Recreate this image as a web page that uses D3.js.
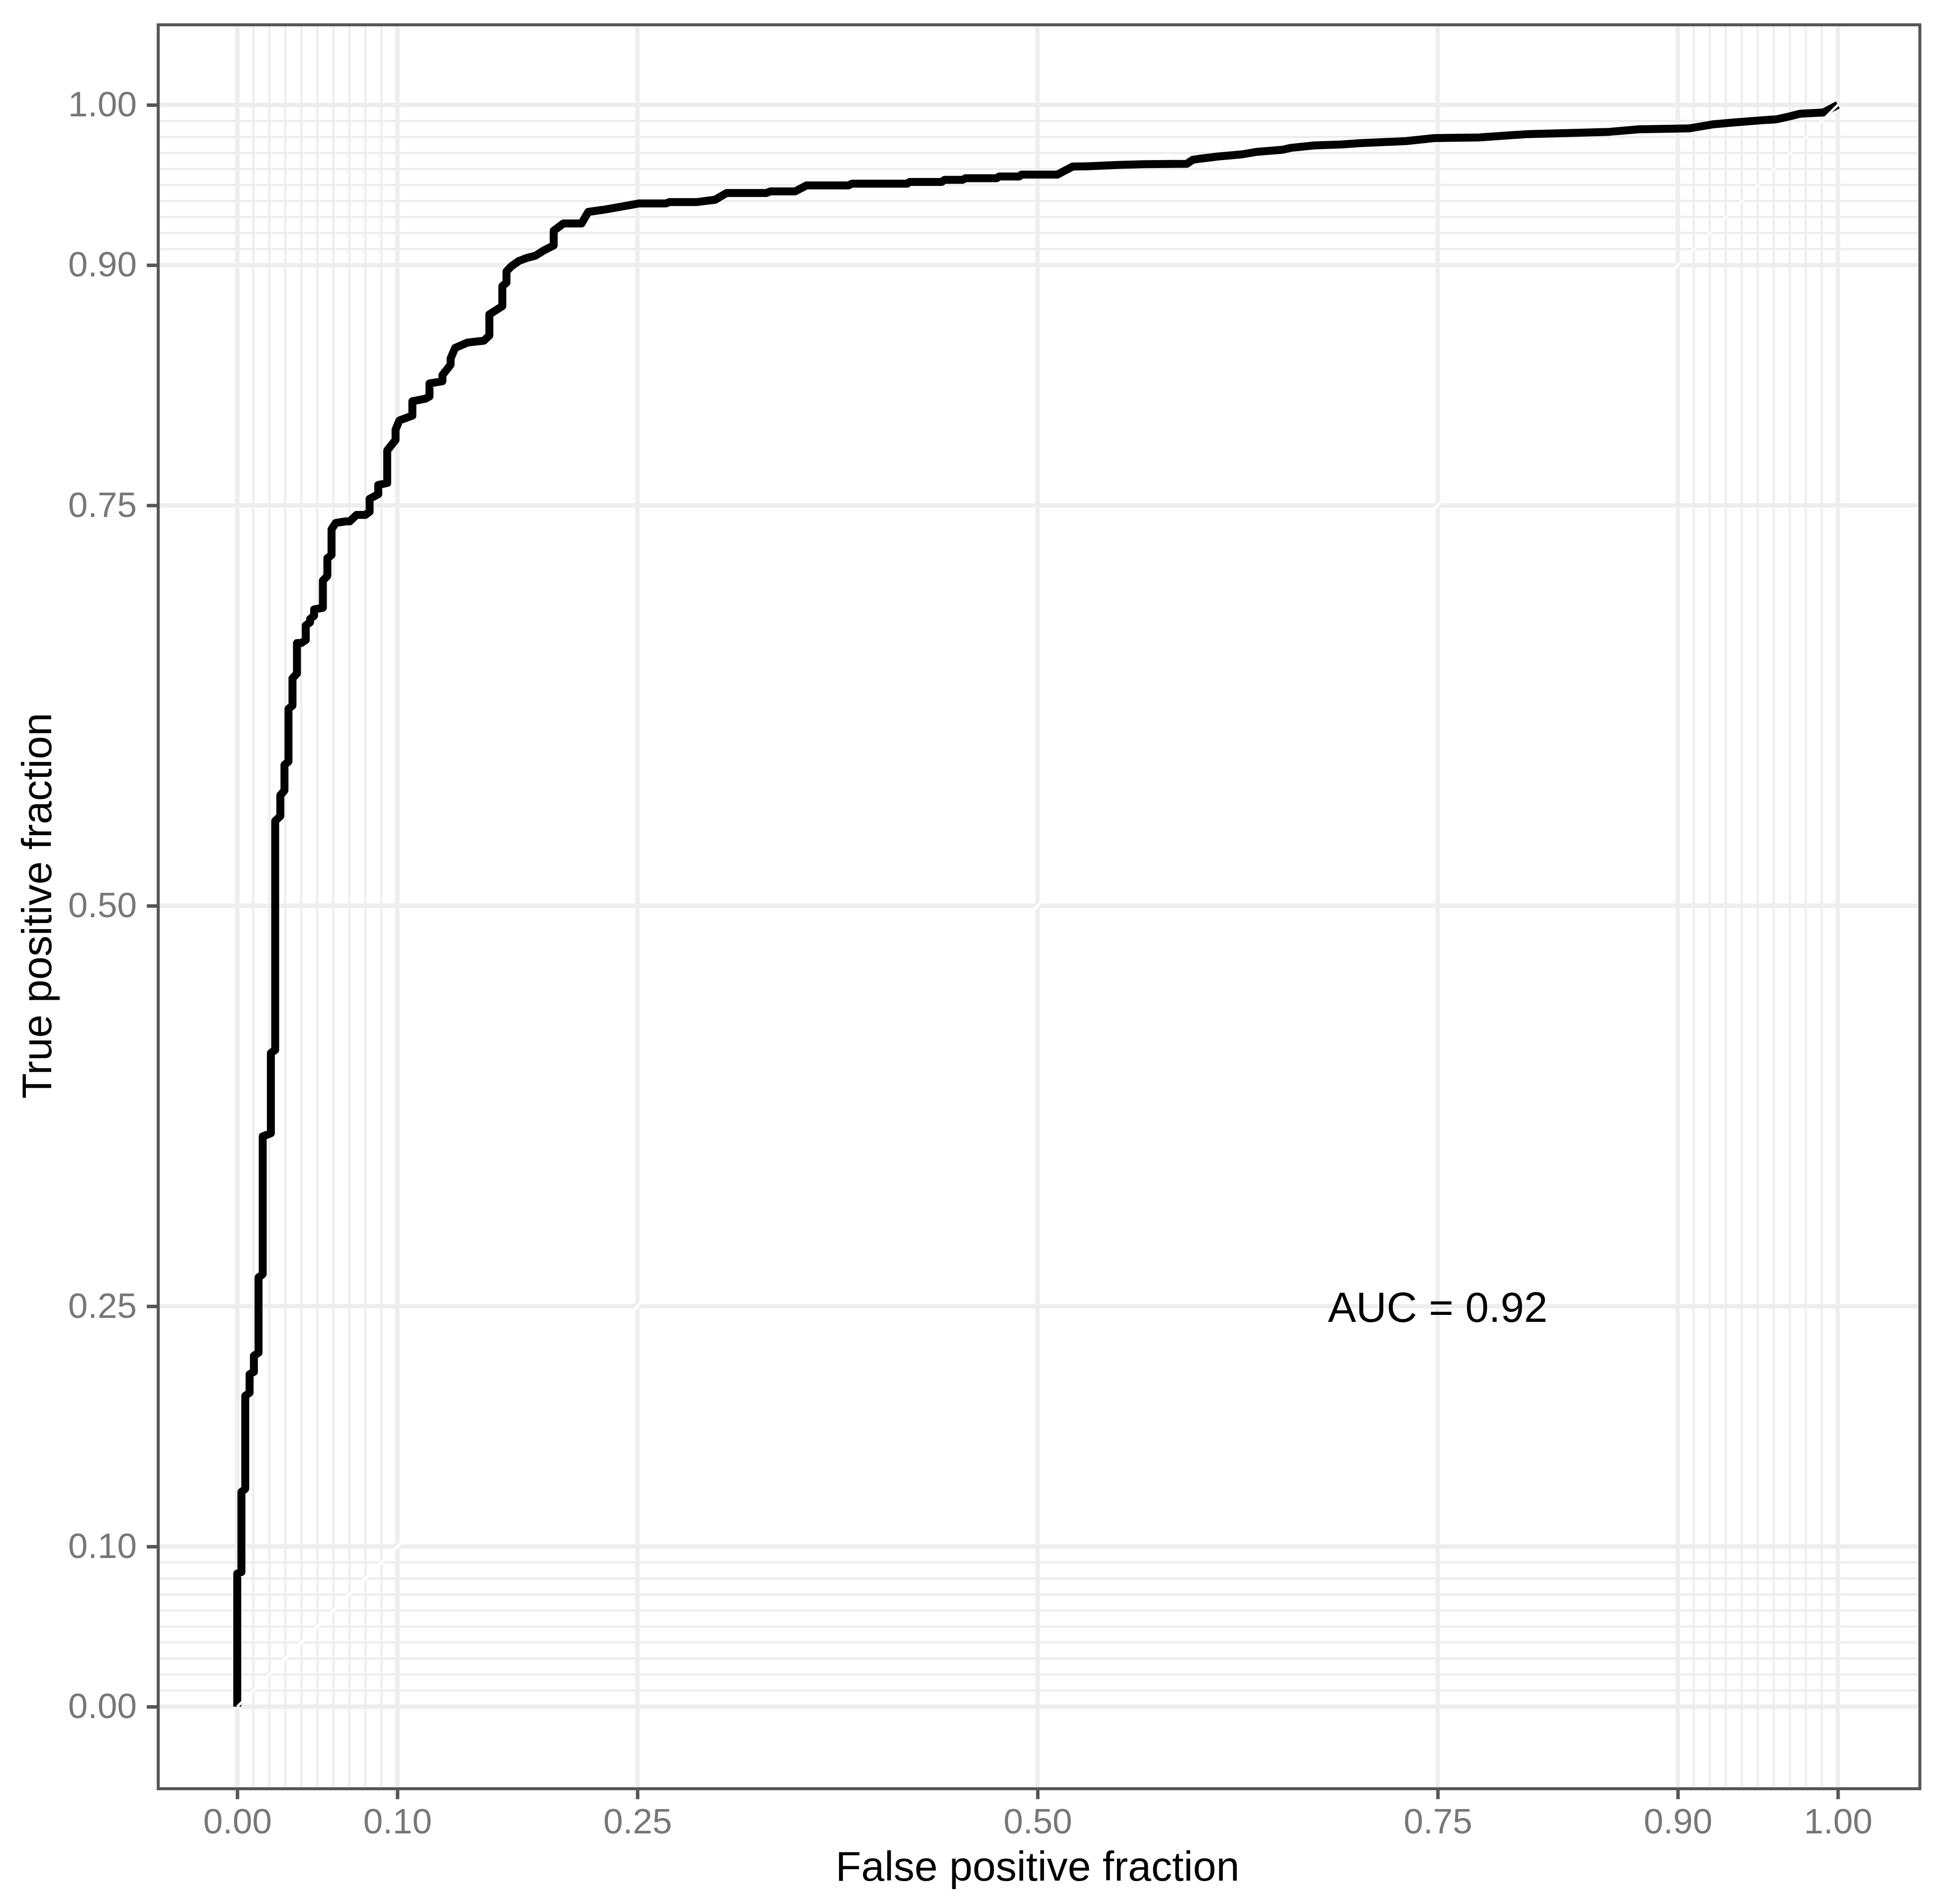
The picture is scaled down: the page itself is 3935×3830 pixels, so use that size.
<!DOCTYPE html>
<html>
<head>
<meta charset="utf-8">
<script src="https://cdn.jsdelivr.net/npm/d3@7"></script>
<style>
  html, body { margin: 0; padding: 0; background: #fff; }
  text { font-family: "Liberation Sans", Arial, sans-serif; }
</style>
</head>
<body>
<div id="chart"></div>
<script>
// ROC curve points
const fpf = [
  0, 0, 0.0026, 0.0026, 0.005, 0.005, 0.0077, 0.0077, 0.0104, 0.0104,
  0.0133, 0.0133, 0.0159, 0.0159, 0.021, 0.021, 0.0237, 0.0237, 0.0269, 0.0269,
  0.0295, 0.0295, 0.032, 0.032, 0.0345, 0.0345, 0.0373, 0.0373, 0.040, 0.0428,
  0.0428, 0.0455, 0.0455, 0.048, 0.048, 0.0535, 0.0535, 0.0563, 0.0563, 0.0589,
  0.0589, 0.0615, 0.068, 0.0703, 0.0745, 0.080, 0.0827, 0.0827, 0.0881, 0.0881,
  0.0937, 0.0937, 0.0989, 0.0989, 0.1013, 0.1094, 0.1094, 0.1174, 0.1201, 0.1201,
  0.1282, 0.1282, 0.1333, 0.1333, 0.1361, 0.1438, 0.1541, 0.1575, 0.1575, 0.1656,
  0.1656, 0.1682, 0.1682, 0.1712, 0.1758, 0.181, 0.1862, 0.1913, 0.1977, 0.1977,
  0.2038, 0.2151, 0.2193, 0.2286, 0.2431, 0.2511, 0.2678, 0.270, 0.2868, 0.2986,
  0.3058, 0.3307, 0.333, 0.3485, 0.3556, 0.3818, 0.3841, 0.4186, 0.420, 0.440,
  0.442, 0.453, 0.455, 0.4744, 0.476, 0.4886, 0.490, 0.5124, 0.5219, 0.5314,
  0.5504, 0.567, 0.5932, 0.5969, 0.6022, 0.6129, 0.6209, 0.6276, 0.637, 0.653,
  0.6583, 0.673, 0.6904, 0.7011, 0.7305, 0.7479, 0.7759, 0.8067, 0.8387, 0.8574,
  0.8761, 0.9069, 0.9216, 0.9336, 0.9537, 0.9617, 0.9697, 0.9764, 0.9911, 1
];
const tpf = [
  0, 0.083, 0.084, 0.134, 0.136, 0.194, 0.196, 0.2075, 0.209, 0.219,
  0.221, 0.268, 0.270, 0.356, 0.358, 0.408, 0.410, 0.553, 0.556, 0.569,
  0.572, 0.588, 0.590, 0.623, 0.625, 0.642, 0.645, 0.664, 0.664, 0.666,
  0.675, 0.677, 0.679, 0.681, 0.685, 0.686, 0.703, 0.706, 0.717, 0.719,
  0.735, 0.739, 0.740, 0.740, 0.744, 0.744, 0.746, 0.754, 0.757, 0.7627,
  0.764, 0.7843, 0.7908, 0.7973, 0.803, 0.806, 0.815, 0.8165, 0.818, 0.8261,
  0.8275, 0.8313, 0.8378, 0.8417, 0.8483, 0.8516, 0.8528, 0.8561, 0.8692, 0.8744,
  0.8868, 0.889, 0.896, 0.8992, 0.9025, 0.9045, 0.9058, 0.909, 0.9123, 0.9214,
  0.926, 0.926, 0.9332, 0.9345, 0.937, 0.9385, 0.9385, 0.9393, 0.9393, 0.9408,
  0.945, 0.945, 0.946, 0.946, 0.9497, 0.9497, 0.9508, 0.9508, 0.9519, 0.9519,
  0.9532, 0.9532, 0.9542, 0.9542, 0.9553, 0.9553, 0.9565, 0.9565, 0.9615, 0.9617,
  0.9625, 0.963, 0.9632, 0.9657, 0.9665, 0.9678, 0.9685, 0.9691, 0.9707, 0.972,
  0.9732, 0.9747, 0.9753, 0.9761, 0.9774, 0.9793, 0.9797, 0.9818, 0.9826, 0.9832,
  0.9848, 0.9853, 0.9878, 0.9889, 0.9905, 0.991, 0.9928, 0.9945, 0.9953, 1
];

const majorBreaks = [0, 0.1, 0.25, 0.5, 0.75, 0.9, 1];
const minorBreaks = [0.01, 0.02, 0.03, 0.04, 0.05, 0.06, 0.07, 0.08, 0.09,
                     0.91, 0.92, 0.93, 0.94, 0.95, 0.96, 0.97, 0.98, 0.99];
const tickLabels = ["0.00", "0.10", "0.25", "0.50", "0.75", "0.90", "1.00"];
const aucLabel = "AUC = 0.92";
const xTitle = "False positive fraction";
const yTitle = "True positive fraction";

const width = 3935, height = 3830;
const gridColor = "#eeeeee";

const x = d3.scaleLinear().domain([0, 1]).range([477.3, 3697.3]);
const y = d3.scaleLinear().domain([0, 1]).range([3433, 211]);

const svg = d3.select("#chart")
  .append("svg")
  .attr("width", width)
  .attr("height", height)
  .attr("viewBox", `0 0 ${width} ${height}`);

svg.append("rect").attr("width", width).attr("height", height).attr("fill", "#fff");

const px0 = x(-0.05), px1 = x(1.05), py0 = y(-0.05), py1 = y(1.05);

// grid
const grid = svg.append("g");
grid.selectAll(".vminor").data(minorBreaks).enter().append("line")
  .attr("x1", d => x(d)).attr("x2", d => x(d))
  .attr("y1", py1).attr("y2", py0)
  .attr("stroke", gridColor).attr("stroke-width", 4.5);
grid.selectAll(".hminor").data(minorBreaks).enter().append("line")
  .attr("y1", d => y(d)).attr("y2", d => y(d))
  .attr("x1", px0).attr("x2", px1)
  .attr("stroke", gridColor).attr("stroke-width", 4.5);
grid.selectAll(".vmajor").data(majorBreaks).enter().append("line")
  .attr("x1", d => x(d)).attr("x2", d => x(d))
  .attr("y1", py1).attr("y2", py0)
  .attr("stroke", gridColor).attr("stroke-width", 9);
grid.selectAll(".hmajor").data(majorBreaks).enter().append("line")
  .attr("y1", d => y(d)).attr("y2", d => y(d))
  .attr("x1", px0).attr("x2", px1)
  .attr("stroke", gridColor).attr("stroke-width", 9);

// roc curve
const pts = fpf.map((f, i) => [f, tpf[i]]);
const line = d3.line().x(d => x(d[0])).y(d => y(d[1]));
svg.append("path")
  .datum(pts)
  .attr("d", line)
  .attr("fill", "none")
  .attr("stroke", "#000")
  .attr("stroke-width", 16)
  .attr("stroke-linejoin", "round")
  .attr("stroke-linecap", "butt");

// reference diagonal
svg.append("line")
  .attr("x1", x(0)).attr("y1", y(0))
  .attr("x2", x(1)).attr("y2", y(1))
  .attr("stroke", "#fff").attr("stroke-width", 5);

// annotation
svg.append("text")
  .attr("x", x(0.75)).attr("y", y(0.25) + 31)
  .attr("text-anchor", "middle")
  .attr("font-size", 85)
  .attr("fill", "#000")
  .text(aucLabel);

// panel border
svg.append("rect")
  .attr("x", px0 + 2).attr("y", py1)
  .attr("width", px1 - px0 + 2).attr("height", py0 - py1 + 4)
  .attr("fill", "none")
  .attr("stroke", "#555555")
  .attr("stroke-width", 6);

// axes
const xAxis = d3.axisBottom(x)
  .tickValues(majorBreaks)
  .tickFormat((d, i) => tickLabels[i])
  .tickSize(18).tickPadding(18);
const gx = svg.append("g")
  .attr("transform", `translate(0,${py0 + 7})`)
  .call(xAxis);
gx.select(".domain").remove();
gx.selectAll(".tick line").attr("stroke", "#555555").attr("stroke-width", 7);
gx.selectAll(".tick text")
  .attr("fill", "#777777")
  .attr("font-size", 71)
  .attr("font-family", "Liberation Sans, Arial, sans-serif");

const yAxis = d3.axisLeft(y)
  .tickValues(majorBreaks)
  .tickFormat((d, i) => tickLabels[i])
  .tickSize(22).tickPadding(20);
const gy = svg.append("g")
  .attr("transform", `translate(${px0 + 1},0)`)
  .call(yAxis);
gy.select(".domain").remove();
gy.selectAll(".tick line").attr("stroke", "#555555").attr("stroke-width", 7);
gy.selectAll(".tick text")
  .attr("fill", "#777777")
  .attr("font-size", 71)
  .attr("font-family", "Liberation Sans, Arial, sans-serif");

// axis titles
svg.append("text")
  .attr("x", (px0 + px1) / 2)
  .attr("y", 3783)
  .attr("text-anchor", "middle")
  .attr("font-size", 84)
  .attr("fill", "#000")
  .text(xTitle);

svg.append("text")
  .attr("transform", `translate(103,${(py0 + py1) / 2}) rotate(-90)`)
  .attr("text-anchor", "middle")
  .attr("font-size", 84)
  .attr("fill", "#000")
  .text(yTitle);
</script>
</body>
</html>
